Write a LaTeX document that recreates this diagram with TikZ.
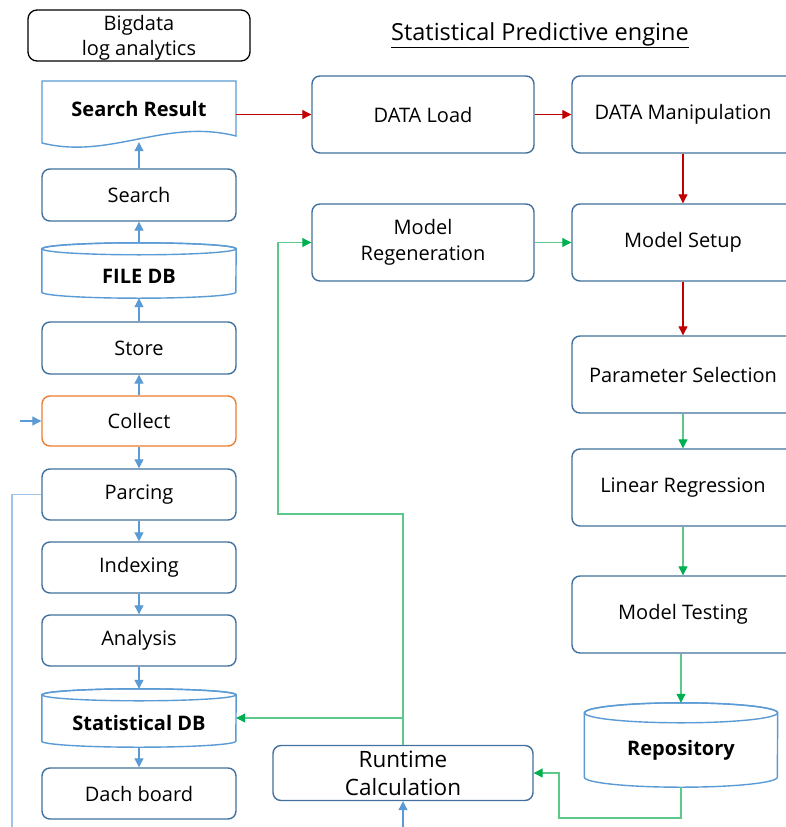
\documentclass[tikz,border=0pt]{standalone}
\usepackage{fontspec}
\setmainfont{Open Sans}
\usetikzlibrary{arrows.meta,calc}
\definecolor{boxblue}{HTML}{41719C}
\definecolor{lightblue}{HTML}{5B9BD5}
\definecolor{arrblue}{HTML}{5B9BD5}
\definecolor{linkblue}{HTML}{9DC3E6}
\definecolor{darkred}{HTML}{C00000}
\definecolor{gline}{HTML}{5CC98A}
\definecolor{gtip}{HTML}{00B050}
\definecolor{orange}{HTML}{ED7D31}
\begin{document}
\begin{tikzpicture}[x=1pt,y=-1pt,
  lbl/.style={font=\fontsize{20}{24}\selectfont},
  proc/.style={draw=boxblue, line width=1.4pt, rounded corners=8pt, fill=white, align=center, inner sep=0pt, lbl},
  lproc/.style={proc, minimum width=194pt, minimum height=51pt},
  rproc/.style={proc, minimum width=222pt, minimum height=77pt},
  plain/.style={inner sep=0pt, align=center, lbl},
  dbline/.style={draw=lightblue, line width=1.4pt},
  barrow/.style={draw=arrblue, line width=1.1pt, -{Triangle[length=9pt,width=9pt]}},
  rarrow/.style={draw=darkred, line width=1.1pt, -{Triangle[length=9pt,width=9pt]}},
  garrow/.style={draw=gline, line width=1.1pt, -{Triangle[length=9pt,width=9pt,color=gtip]}},
  gline/.style={draw=gline, line width=1.1pt},
]
\useasboundingbox (0,0) rectangle (786,827);
\fill[white] (0,0) rectangle (786,827);

% header
\node[draw=black, line width=1.3pt, rounded corners=9pt, minimum width=222pt, minimum height=51pt, inner sep=0pt] (big) at (139,35.5) {};
\node[align=center, inner sep=0pt, font=\fontsize{20}{25}\selectfont] at (139,37.5) {Bigdata\\log analytics};
\node[inner sep=0pt, font=\fontsize{23.5}{28}\selectfont] (title) at (540,35) {\underline{Statistical Predictive engine}};

% left column
\node[plain, minimum width=194pt, minimum height=61pt] (sres) at (139,111.5) {};
\draw[dbline, fill=white] (42,81) -- (236,81) -- (236,136) .. controls (165,118) and (110,160) .. (42,143) -- cycle;
\node[lbl, font=\fontsize{20}{24}\selectfont\bfseries] at (139,109) {Search Result};

\node[lproc, minimum height=52pt] (search) at (139,195) {Search};

\node[plain, minimum width=194pt, minimum height=55pt] (fdb) at (139,270.5) {};
\draw[dbline, fill=white] ([yshift=-6pt]fdb.north west) -- ([yshift=6pt]fdb.south west) arc[start angle=180,end angle=360,x radius=97pt,y radius=6pt] -- ([yshift=-6pt]fdb.north east) arc[start angle=0,end angle=180,x radius=97pt,y radius=6pt] -- cycle;
\draw[dbline] ([yshift=-6pt]fdb.north) ellipse[x radius=97pt, y radius=6pt];
\node[font=\fontsize{20}{24}\selectfont\bfseries] at (139,276) {FILE DB};

\node[lproc, minimum height=52pt] (store) at (139,348) {Store};
\node[lproc, draw=orange, minimum height=50pt] (coll) at (139,421) {Collect};
\node[lproc] (parc) at (139,494.5) {Parcing};
\node[lproc] (idx) at (139,567.5) {Indexing};
\node[lproc] (ana) at (139,640.5) {Analysis};

\node[plain, minimum width=194pt, minimum height=58pt] (sdb) at (139,718) {};
\draw[dbline, fill=white] ([yshift=-6pt]sdb.north west) -- ([yshift=6pt]sdb.south west) arc[start angle=180,end angle=360,x radius=97pt,y radius=6pt] -- ([yshift=-6pt]sdb.north east) arc[start angle=0,end angle=180,x radius=97pt,y radius=6pt] -- cycle;
\draw[dbline] ([yshift=-6pt]sdb.north) ellipse[x radius=97pt, y radius=6pt];
\node[font=\fontsize{20}{24}\selectfont\bfseries] at (139,723) {Statistical DB};

\node[lproc] (dash) at (139,793.5) {Dach board};

% right part
\node[rproc] (dl) at (423,114.5) {DATA Load};
\node[rproc] (dm) at (683,114.5) {DATA Manipulation};
\node[rproc, font=\fontsize{20}{26}\selectfont] (mreg) at (423,242.5) {Model\\Regeneration};
\node[rproc] (mset) at (683,242.5) {Model Setup};
\node[rproc] (psel) at (683,374.5) {Parameter Selection};
\node[rproc] (lreg) at (683,487.5) {Linear Regression};
\node[rproc] (mtest) at (683,614.5) {Model Testing};

\node[plain, minimum width=193pt, minimum height=84pt] (repo) at (681,745) {};
\draw[dbline, fill=white] ([yshift=-10pt]repo.north west) -- ([yshift=10pt]repo.south west) arc[start angle=180,end angle=360,x radius=96.5pt,y radius=10pt] -- ([yshift=-10pt]repo.north east) arc[start angle=0,end angle=180,x radius=96.5pt,y radius=10pt] -- cycle;
\draw[dbline] ([yshift=-10pt]repo.north) ellipse[x radius=96.5pt, y radius=10pt];
\node[font=\fontsize{20}{24}\selectfont\bfseries] at (681,750) {Repository};

\node[proc, minimum width=260pt, minimum height=55pt, font=\fontsize{22.5}{28}\selectfont] (rt) at (403,773) {Runtime\\Calculation};

% coordinates
\coordinate (cin) at (20,421);
\coordinate (lb) at (12,830);
\coordinate (rb) at (403,830);
\coordinate (g1) at (278,514);
\coordinate (g2) at (559,818);

% blue connectors
\draw[barrow] (search.north) -- (sres.south);
\draw[barrow] (fdb.north) -- (search.south);
\draw[barrow] (store.north) -- (fdb.south);
\draw[barrow] (coll.north) -- (store.south);
\draw[barrow] (cin) -- (coll.west);
\draw[barrow] (coll.south) -- (parc.north);
\draw[barrow] (parc.south) -- (idx.north);
\draw[barrow] (idx.south) -- (ana.north);
\draw[barrow] (ana.south) -- (sdb.north);
\draw[barrow] (sdb.south) -- (dash.north);
\draw[draw=linkblue, line width=1.1pt] (parc.west) -| (lb);
\draw[barrow] (rb) -- (rt.south);

% red connectors
\draw[rarrow] (sres.east |- dl.west) -- (dl.west);
\draw[rarrow] (dl.east) -- (dm.west);
\draw[rarrow] (dm.south) -- (mset.north);
\draw[rarrow] (mset.south) -- (psel.north);

% green connectors
\draw[garrow] (mreg.east) -- (mset.west);
\draw[garrow] (psel.south) -- (lreg.north);
\draw[garrow] (lreg.south) -- (mtest.north);
\draw[garrow] (mtest.south -| repo.north) -- (repo.north);
\draw[garrow] (repo.south) |- (g2) |- (rt.east);
\draw[garrow] (rt.north) |- (g1) |- (mreg.west);
\draw[garrow] (rt.north |- sdb.east) -- (sdb.east);
\end{tikzpicture}
\end{document}
